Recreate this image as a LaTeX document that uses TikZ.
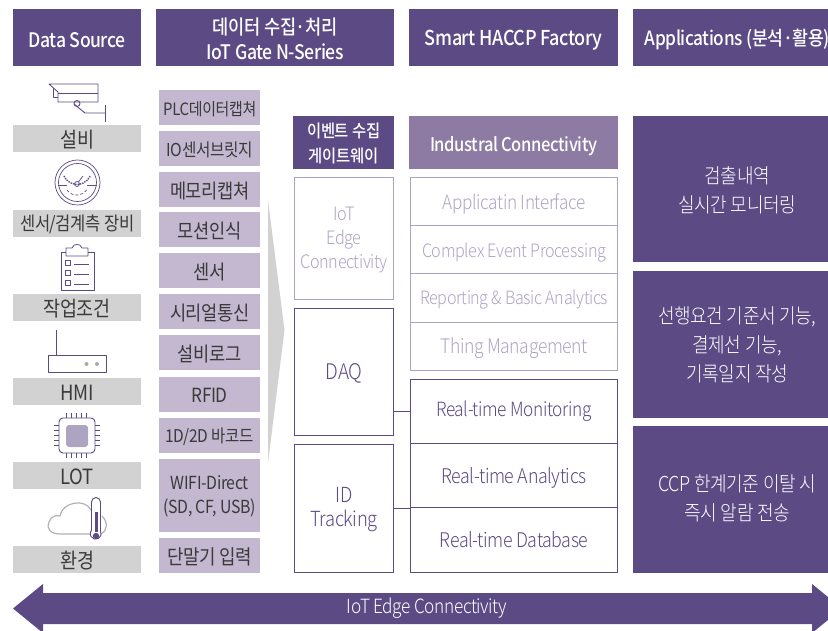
\documentclass[tikz,border=0pt]{standalone}
\usepackage{fontspec}
\setmainfont{Noto Sans CJK KR}[FakeStretch=0.88,LetterSpace=-2]
\newfontfamily\medf{Noto Sans CJK KR Medium}[FakeStretch=0.88,LetterSpace=-2]
\newfontfamily\lightf{Noto Sans CJK KR Light}[FakeStretch=0.88,LetterSpace=-2]
\definecolor{pdark}{HTML}{5C4A85}
\definecolor{pmid}{HTML}{8D7BA3}
\definecolor{plight}{HTML}{C3B8D0}
\definecolor{pline}{HTML}{AFA3C3}
\definecolor{gbar}{HTML}{D2D2D2}
\definecolor{txt}{HTML}{3A3A3A}
\newcommand{\fsz}[2]{\fontsize{#1}{#2}\selectfont}
\tikzset{x=1pt,y=-1pt,
 head/.style={fill=pdark,text=white,align=center,font=\medf\fsz{20}{25}},
 lab/.style={fill=gbar,text=txt,align=center,font=\fsz{21}{22}},
 item/.style={fill=plight,text=txt,align=center,font=\fsz{20}{23}},
 softbox/.style={draw=pline,line width=1.2pt,text=pline,align=center,font=\lightf\fsz{18.5}{24}},
 darkbox/.style={draw=pdark,line width=1.2pt,text=pdark,align=center,font=\lightf\fsz{20.2}{24}},
 app/.style={fill=pdark,text=white,align=center,font=\lightf\fsz{20.5}{29}},
 icon/.style={draw=pdark,line width=0.9pt,line join=round}}
\newcommand{\tbox}[8][1pt]{%
 \node[#3,minimum width=#6pt-#4pt,minimum height=#7pt-#5pt,inner sep=0pt,anchor=north west] (#2) at (#4,#5) {};
 \node[#3,fill=none,draw=none,inner sep=0pt] (#2t) at ([yshift=-#1]#2.center) {#8};}
\begin{document}
\begin{tikzpicture}
\useasboundingbox (0,0) rectangle (828,631);
% headers
\tbox[2pt]{h1}{head}{13}{9}{141}{66}{Data Source}
\tbox[1pt]{h2}{head}{156}{9}{394}{66}{데이터 수집·처리\\IoT Gate N-Series}
\tbox[2pt]{h3}{head,font=\medf\fsz{20.5}{25}}{409}{9}{618}{66}{Smart HACCP Factory}
\tbox[2pt]{h4}{head,font=\medf\fsz{19.6}{25}}{633}{9}{841}{66}{Applications (분석·활용)}
% left labels
\tbox{l1}{lab}{13}{125}{141}{152}{설비}
\tbox{l2}{lab,font=\fsz{18.8}{22}}{13}{210}{141}{237}{센서/검계측 장비}
\tbox{l3}{lab}{13}{294}{141}{321}{작업조건}
\tbox{l4}{lab}{13}{378}{141}{405}{HMI}
\tbox{l5}{lab}{13}{462}{141}{489}{LOT}
\tbox{l6}{lab}{13}{546}{141}{573}{환경}
% items
\tbox{i1}{item,font=\fsz{17}{23}}{159}{90}{260}{125}{PLC데이터캡쳐}
\tbox{i2}{item,font=\fsz{17.8}{23}}{159}{131}{260}{166}{IO센서브릿지}
\tbox{i3}{item}{159}{172}{260}{207}{메모리캡쳐}
\tbox{i4}{item}{159}{212}{260}{247}{모션인식}
\tbox{i5}{item}{159}{253}{260}{288}{센서}
\tbox{i6}{item}{159}{294}{260}{329}{시리얼통신}
\tbox{i7}{item}{159}{335}{260}{370}{설비로그}
\tbox{i8}{item,font=\fsz{19.5}{23}}{159}{377}{260}{412}{RFID}
\tbox{i9}{item,font=\fsz{17.6}{23}}{159}{418}{260}{453}{1D/2D 바코드}
\tbox{i10}{item,font=\fsz{18}{24}}{159}{459}{260}{532}{WIFI-Direct\\(SD, CF, USB)}
\tbox{i11}{item,font=\fsz{20.3}{23}}{159}{538}{260}{573}{단말기 입력}
% grey arrow
\fill[gbar] (268,200) -- (284.5,330) -- (268,463) -- cycle;
% gateway
\tbox[1pt]{g0}{head,font=\medf\fsz{17.5}{25}}{293}{116}{394}{169}{이벤트 수집\\게이트웨이}
\tbox{g1}{softbox}{294}{177}{393}{299}{IoT\\Edge\\Connectivity}
\tbox{g2}{darkbox,font=\lightf\fsz{21.5}{24}}{294}{308}{393}{435}{DAQ}
\tbox{g3}{darkbox,font=\lightf\fsz{20.8}{24}}{294}{444}{393}{572}{ID\\Tracking}
% factory
\tbox[3pt]{f0}{head,fill=pmid,font=\medf\fsz{18.8}{24}}{409}{116}{618}{169}{Industral Connectivity}
\tbox[2pt]{f1}{softbox,font=\lightf\fsz{19.5}{24}}{410}{177}{617}{225}{Applicatin Interface}
\tbox[3pt]{f2}{softbox,font=\lightf\fsz{18.4}{24}}{410}{225}{617}{273}{Complex Event Processing}
\tbox[1.5pt]{f3}{softbox,font=\lightf\fsz{18.3}{24}}{410}{273}{617}{322}{Reporting \& Basic Analytics}
\tbox[1pt]{f4}{softbox,font=\lightf\fsz{20}{24}}{410}{322}{617}{370}{Thing Management}
\tbox[0pt]{f5}{darkbox,font=\lightf\fsz{19.6}{24}}{410}{379}{617}{443}{Real-time Monitoring}
\tbox[2pt]{f6}{darkbox}{410}{443}{617}{507}{Real-time Analytics}
\tbox[-1pt]{f7}{darkbox}{410}{507}{617}{572}{Real-time Database}
\draw[pdark,line width=1.2pt] (g2.east |- f5) -- (f5.west);
\draw[pdark,line width=1.2pt] (g3.east |- f6.south) -- (f6.south west);
% apps
\tbox[1pt]{a1}{app}{633}{116}{841}{262}{검출내역\\실시간 모니터링}
\tbox[0pt]{a2}{app}{633}{271}{841}{418}{선행요건 기준서 기능,\\결제선 기능,\\기록일지 작성}
\tbox[-1pt]{a3}{app}{633}{426}{841}{573}{CCP 한계기준 이탈 시\\즉시 알람 전송}
% bottom arrow
\fill[pdark] (13,608.5) -- (43,584) -- (43,593) -- (812,593) -- (812,584) -- (828,597) -- (828,620) -- (812,633) -- (812,624) -- (43,624) -- (43,633) -- cycle;
\node[text=white,font=\lightf\fsz{19.6}{20}] (bt) at (427,608) {IoT Edge Connectivity};
\begin{scope}[icon]
% camera icon
\draw (49,84) -- (98,84) -- (98,102) -- (58,102) -- (58,92) -- cycle;
\draw (58,93) -- (98,93);
\draw (53,88) -- (53,97) -- (58,97);
\draw (74,104) -- (85,113) -- (105,113);
\draw (105,105) -- (105,122);
\draw (77,103.5) circle (3pt);
% gauge
\draw[line width=.7pt] (77.5,182.5) circle (22.5pt);
\draw[line width=.7pt] (77.5,182.5) circle (19pt);
\draw[densely dotted,line width=1.4pt] (64,176) arc (205:335:14.5pt);
\draw[line width=.7pt] (58,185) -- (67,185) (87,185) -- (97,185);
\draw[line width=.7pt] (77,184) circle (2.5pt);
\draw[line width=.7pt] (78.5,182) -- (83,176);
\draw[densely dashed,line width=.7pt] (67,190) arc (215:325:12pt);
% clipboard
\draw[line width=.8pt] (66,252) -- (61,252) -- (61,290) -- (94,290) -- (94,252) -- (88,252);
\draw[line width=.8pt] (66,256) -- (66,248) -- (72,248) .. controls (73,245) and (75,244.5) .. (77,244.5) .. controls (79,244.5) and (81,245) .. (82,248) -- (88,248) -- (88,256) -- cycle;
\foreach \yy in {260,270,280}{\draw[line width=.7pt] (65,\yy) rectangle (70,\yy+5); \draw[line width=.7pt] (74,\yy+4) -- (89,\yy+4);}
% router
\draw (56,330) -- (56,355);
\draw (48,355.5) rectangle (106.5,372);
\fill[gbar!80!black,draw=none] (86.5,364) circle (2pt) (97,364) circle (2pt);
% chip
\draw[rounded corners=4pt] (59,418) rectangle (95,453);
\fill[pdark!50,rounded corners=3pt,draw=none] (66,425) rectangle (88,447);
\foreach \k in {0,1,2,3,4}{\draw[line width=.7pt] (66+\k*5,413) -- (66+\k*5,418) (66+\k*5,453) -- (66+\k*5,458) (54,425.5+\k*5) -- (59,425.5+\k*5) (95,425.5+\k*5) -- (100,425.5+\k*5);}
% cloud
\draw[draw=gbar!85!black,line width=1.2pt] (92,534) -- (60,534) .. controls (50,534) and (46,528) .. (49,522) .. controls (51,516) and (56,515) .. (60,516) .. controls (62,502) and (85,498) .. (91,510);
\draw[draw=gbar!85!black,line width=1.2pt] (102,516) .. controls (108,522) and (108,530) .. (101,534);
\draw[fill=white] (91.5,531) -- (91.5,502) arc (180:0:4.5pt) -- (100.5,531) arc (30:-210:5.5pt) -- cycle;
\fill[pdark,draw=none] (94.5,512) rectangle (97.5,532);
\fill[pdark,draw=none] (96,536) circle (3.2pt);
\end{scope}
\end{tikzpicture}
\end{document}
